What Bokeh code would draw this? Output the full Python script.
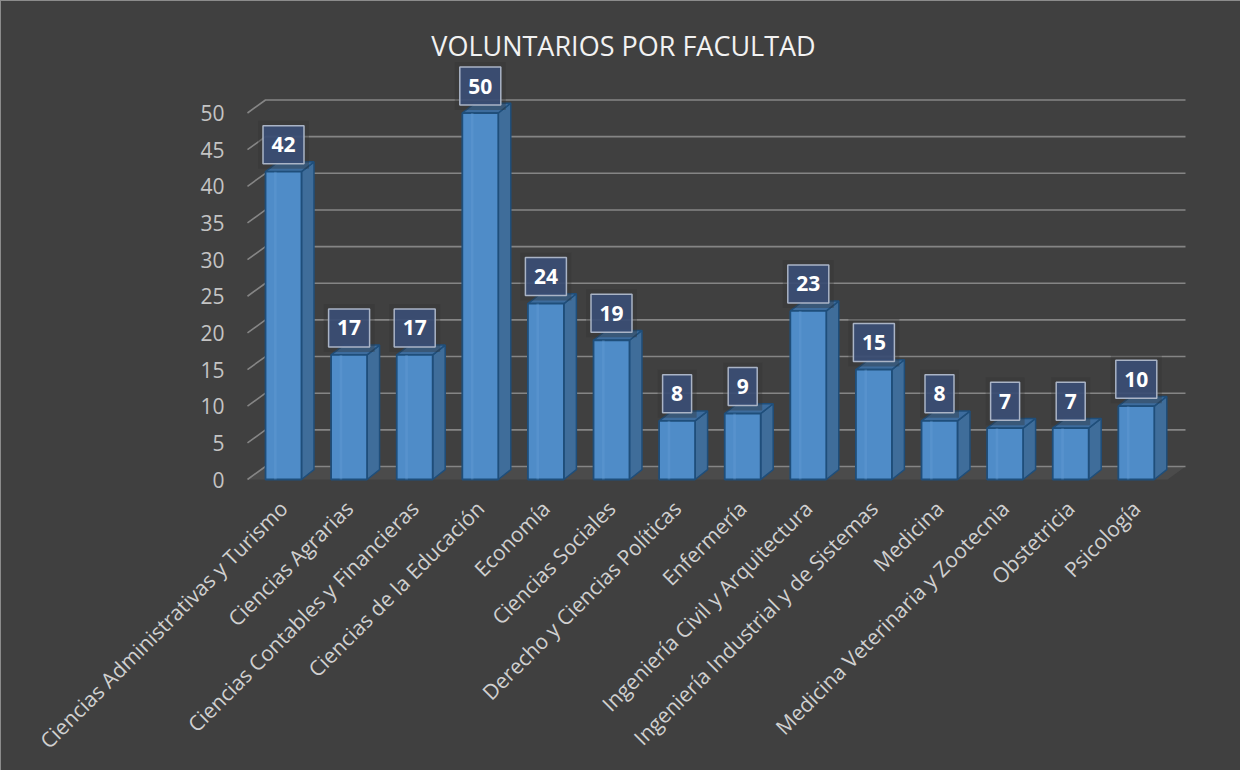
import math
from bokeh.plotting import figure
from bokeh.models import Range1d, FixedTicker, ColumnDataSource
from bokeh.core.properties import value
from bokeh.embed import file_html
from bokeh.resources import INLINE

# ---------------- data ----------------
categories = [
    "Ciencias Administrativas y Turismo",
    "Ciencias Agrarias",
    "Ciencias Contables y Financieras",
    "Ciencias de la Educación",
    "Economía",
    "Ciencias Sociales",
    "Derecho y Ciencias Políticas",
    "Enfermería",
    "Ingeniería Civil y Arquitectura",
    "Ingeniería Industrial y de Sistemas",
    "Medicina",
    "Medicina Veterinaria y Zootecnia",
    "Obstetricia",
    "Psicología",
]
volunteers = [42, 17, 17, 50, 24, 19, 8, 9, 23, 15, 8, 7, 7, 10]
y_ticks = [0, 5, 10, 15, 20, 25, 30, 35, 40, 45, 50]
title_text = "VOLUNTARIOS POR FACULTAD"

# ---------------- geometry / style ----------------
PX_CAT = 65.6      # pixels per category
PX_VAL = 7.33      # pixels per unit
HALF_W = 0.274     # half bar width (category units)
BAR_DX = 12.5 / PX_CAT
BAR_DY = 9.8 / PX_VAL
WALL_DX = 18.0 / PX_CAT
WALL_DY = 13.0 / PX_VAL
FLOOR_L = -0.549
WALL_R = (1193 - 291) / PX_CAT

FONT = "Open Sans"
BG = "#404040"

n = len(categories)
idx = list(range(n))

FR_L, FR_R, FR_T, FR_B = 245, 1235, 20, 500   # frame in page pixels

p = figure(
    width=1240, height=770,
    x_range=Range1d((FR_L - 291) / PX_CAT, (FR_R - 291) / PX_CAT),
    y_range=Range1d((487 - FR_B) / PX_VAL, (487 - FR_T) / PX_VAL),
    output_backend="svg", toolbar_location=None,
    min_border_left=FR_L - 8, min_border_right=1248 - FR_R,
    min_border_top=FR_T - 8, min_border_bottom=778 - FR_B,
)
p.background_fill_color = None
p.border_fill_color = None
p.styles = {"background-color": BG, "box-shadow": "inset 1px 1px 0 #8c8c8c"}
p.outline_line_color = None
p.xgrid.visible = False
p.ygrid.visible = False

# floor
floor_x = [FLOOR_L, WALL_R - WALL_DX, WALL_R, FLOOR_L + WALL_DX]
floor_y = [0, 0, WALL_DY, WALL_DY]
p.patch(floor_x, floor_y, fill_color="#4b4b4b", line_color=None)

# gridlines (front diagonal + back wall)
gx, gy = [], []
for t in y_ticks:
    gx.append([FLOOR_L, FLOOR_L + WALL_DX, WALL_R])
    gy.append([t, t + WALL_DY, t + WALL_DY])
p.multi_line(gx, gy, line_color="#858585", line_width=1.6)

# bars (3D)
side_xs, side_ys, top_xs, top_ys = [], [], [], []
for i, v in zip(idx, volunteers):
    r = i + HALF_W
    l = i - HALF_W
    side_xs.append([r, r + BAR_DX, r + BAR_DX, r])
    side_ys.append([0, BAR_DY, v + BAR_DY, v])
    top_xs.append([l, r, r + BAR_DX, l + BAR_DX])
    top_ys.append([v, v, v + BAR_DY, v + BAR_DY])

p.patches(side_xs, side_ys, fill_color="#3f6d9a", line_color="#1f4e7a", line_width=1.5)
p.patches(top_xs, top_ys, fill_color="#3d6c9d", line_color="#1f4e7a", line_width=1.5)
p.quad(left=[i - HALF_W for i in idx], right=[i + HALF_W for i in idx],
       bottom=0, top=volunteers, fill_color="#4f8cc8", line_color="#1f4e7a", line_width=1.8)
# subtle highlight stripe on the front faces
p.quad(left=[i - HALF_W + 0.13 for i in idx], right=[i - HALF_W + 0.17 for i in idx],
       bottom=0, top=volunteers, fill_color="#6aa3da", fill_alpha=0.3, line_color=None)

# data labels (soft shadow + box + text)
lab_src = ColumnDataSource(dict(
    x=idx,
    y=[v + 27 / PX_VAL for v in volunteers],
    w=[17 + 12 * len(str(v)) for v in volunteers],
    ws=[27 + 12 * len(str(v)) for v in volunteers],
    t=[str(v) for v in volunteers],
))
p.rect(x="x", y="y", width="ws", height=48, width_units="screen", height_units="screen",
       source=lab_src, fill_color="#333333", fill_alpha=0.35, line_color=None)
p.rect(x="x", y="y", width="w", height=38, width_units="screen", height_units="screen",
       source=lab_src, fill_color="#3b4f77", fill_alpha=0.9,
       line_color="#aab4c6", line_width=1.5)
p.text(x="x", y="y", text="t", source=lab_src, text_align="center", text_baseline="middle",
       text_color="white", text_font=value(FONT), text_font_style="bold", text_font_size="21px")

# title
p.text(x=[(631 - 291) / PX_CAT], y=[(487 - 53) / PX_VAL], text=[title_text],
       text_align="center", text_baseline="middle", text_color="#f2f2f2",
       text_font=value(FONT), text_font_size="27px")

# axes
p.yaxis.ticker = FixedTicker(ticks=y_ticks)
p.yaxis.axis_line_color = None
p.yaxis.major_tick_line_color = None
p.yaxis.minor_tick_line_color = None
p.yaxis.major_tick_out = 0
p.yaxis.major_tick_in = 0
p.yaxis.major_label_standoff = 13
p.yaxis.major_label_text_color = "#c4c4c4"
p.yaxis.major_label_text_font = FONT
p.yaxis.major_label_text_font_size = "21px"

p.xaxis.ticker = FixedTicker(ticks=idx)
p.xaxis.major_label_overrides = {i: c for i, c in zip(idx, categories)}
p.xaxis.major_label_orientation = math.pi / 4
p.xaxis.axis_line_color = None
p.xaxis.major_tick_line_color = None
p.xaxis.minor_tick_line_color = None
p.xaxis.major_tick_out = 0
p.xaxis.major_tick_in = 0
p.xaxis.major_label_standoff = 12
p.xaxis.major_label_text_color = "#d0d0d0"
p.xaxis.major_label_text_font = FONT
p.xaxis.major_label_text_font_size = "21px"

open("out.html", "w").write(file_html(p, INLINE))
